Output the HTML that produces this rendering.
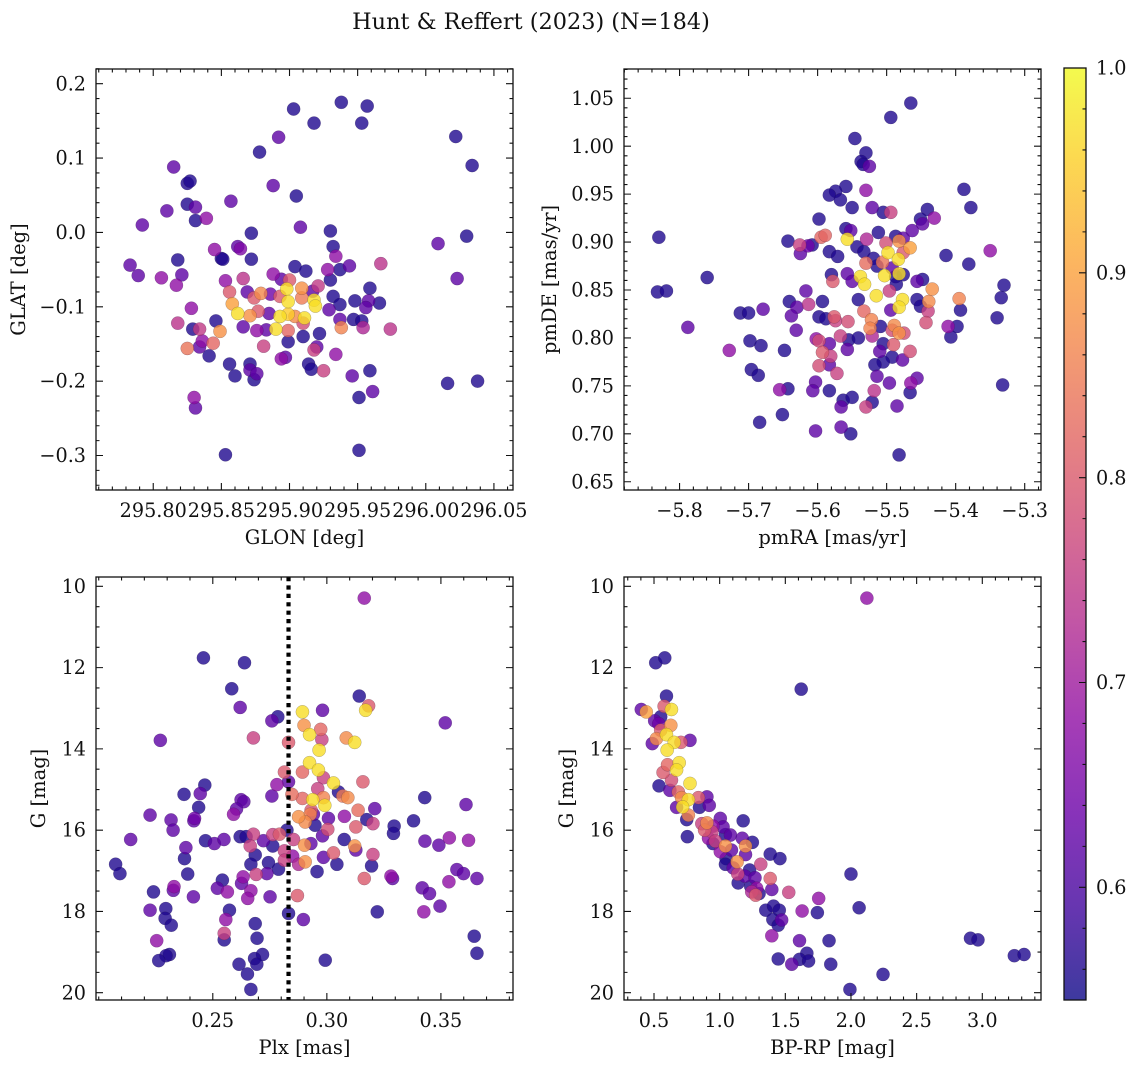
<!DOCTYPE html>
<html><head><meta charset="utf-8">
<style>
html,body{margin:0;padding:0;background:#fff;}
svg{display:block;font-family:"DejaVu Serif","Liberation Serif",serif;}
</style></head>
<body>
<svg id="fig" width="1136" height="1067" viewBox="0 0 1136 1067" xmlns="http://www.w3.org/2000/svg">
<rect width="1136" height="1067" fill="#fff"/>
<text x="531" y="29" font-size="22.4" text-anchor="middle" fill="#111">Hunt &amp; Reffert (2023) (N=184)</text>
<defs>
<linearGradient id="plasmaGrad" x1="0" y1="1" x2="0" y2="0">
<stop offset="0" stop-color="rgb(13,8,135)"/><stop offset="0.1" stop-color="rgb(65,4,157)"/>
<stop offset="0.2" stop-color="rgb(106,0,168)"/><stop offset="0.3" stop-color="rgb(143,13,164)"/>
<stop offset="0.4" stop-color="rgb(177,42,144)"/><stop offset="0.5" stop-color="rgb(204,71,120)"/>
<stop offset="0.6" stop-color="rgb(225,100,98)"/><stop offset="0.7" stop-color="rgb(242,132,75)"/>
<stop offset="0.8" stop-color="rgb(252,166,54)"/><stop offset="0.9" stop-color="rgb(252,206,37)"/>
<stop offset="1" stop-color="rgb(240,249,33)"/>
</linearGradient>
</defs>
</svg>
<script>
// ---------- Panel 1 data: GLON / GLAT ----------
const glon = [295.903,295.938,295.957,295.918,295.953,295.892,295.878,296.022,296.034,295.815,295.825,295.827,295.888,295.905,295.857,295.810,295.825,295.831,295.831,295.839,295.792,295.908,295.872,295.930,296.009,296.030,295.932,295.862,295.864,295.845,295.850,295.851,295.872,295.818,295.783,295.789,295.821,295.806,295.817,295.934,295.944,295.937,295.928,295.904,295.912,295.967,296.023,295.888,295.866,295.853,295.894,295.900,295.930,295.921,295.959,295.856,295.879,295.898,295.909,295.917,295.869,295.886,295.893,295.858,295.874,295.899,295.918,295.909,295.932,295.948,295.958,295.966,295.956,295.919,295.937,295.929,295.862,295.871,295.877,295.885,295.893,295.899,295.904,295.911,295.828,295.846,295.866,295.876,295.883,295.890,295.899,295.910,295.937,295.947,295.953,295.938,295.954,295.974,295.818,295.829,295.834,295.849,295.836,295.844,295.825,295.834,295.841,295.881,295.899,295.910,295.922,295.920,295.918,295.897,295.894,295.934,295.856,295.871,295.914,295.916,295.860,295.871,295.876,295.874,295.925,295.946,295.959,295.961,295.951,296.016,296.038,295.830,295.831,295.853,295.951];
const glat = [0.166,0.175,0.170,0.147,0.147,0.128,0.108,0.129,0.090,0.088,0.066,0.069,0.063,0.049,0.042,0.029,0.038,0.034,0.016,0.019,0.010,0.007,-0.001,0.002,-0.015,-0.005,-0.019,-0.019,-0.022,-0.023,-0.035,-0.036,-0.036,-0.037,-0.044,-0.058,-0.057,-0.061,-0.071,-0.032,-0.045,-0.050,-0.050,-0.046,-0.052,-0.042,-0.062,-0.056,-0.062,-0.065,-0.063,-0.064,-0.064,-0.072,-0.075,-0.080,-0.082,-0.076,-0.075,-0.079,-0.080,-0.083,-0.086,-0.096,-0.088,-0.093,-0.091,-0.088,-0.086,-0.092,-0.092,-0.095,-0.101,-0.099,-0.097,-0.104,-0.109,-0.112,-0.106,-0.109,-0.113,-0.110,-0.113,-0.115,-0.102,-0.119,-0.127,-0.132,-0.131,-0.130,-0.132,-0.122,-0.117,-0.117,-0.119,-0.128,-0.128,-0.130,-0.122,-0.130,-0.130,-0.133,-0.146,-0.149,-0.156,-0.154,-0.166,-0.153,-0.147,-0.140,-0.136,-0.154,-0.158,-0.168,-0.170,-0.164,-0.177,-0.177,-0.177,-0.184,-0.193,-0.185,-0.190,-0.198,-0.186,-0.193,-0.186,-0.214,-0.222,-0.203,-0.200,-0.222,-0.236,-0.299,-0.293];
const prob1 = [0.56,0.56,0.56,0.56,0.56,0.62,0.56,0.56,0.56,0.62,0.56,0.56,0.62,0.56,0.62,0.62,0.56,0.62,0.56,0.68,0.62,0.62,0.56,0.56,0.62,0.56,0.56,0.62,0.66,0.68,0.56,0.56,0.56,0.56,0.62,0.62,0.62,0.68,0.68,0.68,0.62,0.56,0.68,0.56,0.56,0.74,0.62,0.68,0.74,0.68,0.62,0.80,0.56,0.75,0.56,0.80,0.87,0.97,0.88,0.62,0.62,0.64,0.80,0.90,0.80,0.97,0.97,0.85,0.56,0.56,0.62,0.56,0.62,0.97,0.56,0.62,0.97,0.88,0.80,0.62,0.97,0.95,0.87,0.97,0.68,0.56,0.62,0.68,0.62,0.97,0.82,0.78,0.62,0.56,0.56,0.86,0.72,0.74,0.74,0.56,0.75,0.88,0.68,0.82,0.84,0.62,0.56,0.76,0.56,0.56,0.56,0.62,0.76,0.62,0.68,0.68,0.56,0.56,0.56,0.56,0.56,0.62,0.62,0.56,0.76,0.62,0.56,0.62,0.56,0.56,0.56,0.68,0.62,0.56,0.56];
const xt1 = [295.80,295.85,295.90,295.95,296.00,296.05];
const xt1Labels = ["295.80","295.85","295.90","295.95","296.00","296.05"];
const yt1 = [0.2,0.1,0.0,-0.1,-0.2,-0.3];
const yt1Labels = ["0.2","0.1","0.0","\u22120.1","\u22120.2","\u22120.3"];

// ---------- Panel 2 data: pmRA / pmDE ----------
const pmra = [-5.465,-5.494,-5.546,-5.530,-5.537,-5.534,-5.525,-5.559,-5.574,-5.583,-5.567,-5.530,-5.388,-5.378,-5.550,-5.521,-5.505,-5.494,-5.441,-5.451,-5.448,-5.431,-5.598,-5.559,-5.552,-5.512,-5.487,-5.476,-5.463,-5.830,-5.643,-5.595,-5.589,-5.557,-5.529,-5.501,-5.482,-5.466,-5.626,-5.625,-5.614,-5.608,-5.543,-5.533,-5.583,-5.571,-5.498,-5.476,-5.483,-5.414,-5.381,-5.350,-5.519,-5.530,-5.506,-5.514,-5.492,-5.482,-5.476,-5.760,-5.580,-5.557,-5.538,-5.503,-5.487,-5.578,-5.550,-5.532,-5.486,-5.456,-5.448,-5.330,-5.832,-5.819,-5.617,-5.496,-5.434,-5.515,-5.541,-5.456,-5.477,-5.439,-5.395,-5.334,-5.641,-5.613,-5.630,-5.593,-5.482,-5.451,-5.533,-5.494,-5.440,-5.393,-5.712,-5.700,-5.679,-5.638,-5.598,-5.576,-5.588,-5.574,-5.556,-5.522,-5.524,-5.509,-5.489,-5.492,-5.482,-5.475,-5.443,-5.411,-5.398,-5.407,-5.340,-5.788,-5.631,-5.602,-5.598,-5.583,-5.567,-5.555,-5.541,-5.521,-5.505,-5.490,-5.698,-5.682,-5.728,-5.648,-5.593,-5.581,-5.557,-5.510,-5.466,-5.492,-5.477,-5.505,-5.517,-5.696,-5.686,-5.598,-5.583,-5.572,-5.514,-5.603,-5.496,-5.456,-5.465,-5.332,-5.655,-5.643,-5.607,-5.583,-5.518,-5.466,-5.563,-5.566,-5.550,-5.521,-5.530,-5.485,-5.651,-5.684,-5.603,-5.566,-5.552,-5.482];
const pmde = [1.045,1.030,1.008,0.993,0.984,0.981,0.979,0.958,0.953,0.949,0.944,0.954,0.955,0.936,0.936,0.936,0.931,0.931,0.934,0.924,0.919,0.925,0.924,0.914,0.912,0.910,0.906,0.904,0.912,0.905,0.901,0.905,0.907,0.903,0.903,0.899,0.901,0.894,0.897,0.888,0.896,0.897,0.895,0.890,0.890,0.885,0.889,0.889,0.882,0.886,0.877,0.891,0.883,0.878,0.879,0.875,0.873,0.867,0.866,0.863,0.866,0.867,0.864,0.865,0.864,0.859,0.859,0.856,0.856,0.859,0.861,0.855,0.848,0.849,0.849,0.849,0.851,0.844,0.840,0.840,0.840,0.838,0.841,0.842,0.838,0.835,0.832,0.838,0.832,0.833,0.828,0.829,0.828,0.829,0.826,0.826,0.830,0.823,0.822,0.822,0.820,0.818,0.817,0.819,0.810,0.812,0.813,0.808,0.805,0.805,0.816,0.812,0.812,0.801,0.821,0.811,0.808,0.799,0.797,0.794,0.802,0.798,0.800,0.802,0.794,0.793,0.797,0.792,0.787,0.787,0.785,0.781,0.788,0.786,0.786,0.780,0.777,0.775,0.772,0.767,0.761,0.771,0.772,0.763,0.760,0.754,0.753,0.758,0.753,0.751,0.746,0.747,0.745,0.745,0.745,0.743,0.735,0.728,0.738,0.733,0.728,0.729,0.720,0.712,0.703,0.707,0.700,0.678];
const prob2 = [0.56,0.56,0.56,0.56,0.56,0.56,0.62,0.56,0.56,0.56,0.56,0.68,0.56,0.56,0.56,0.62,0.56,0.76,0.56,0.56,0.62,0.68,0.56,0.56,0.62,0.56,0.56,0.62,0.62,0.56,0.56,0.82,0.82,0.97,0.72,0.78,0.88,0.90,0.76,0.62,0.64,0.56,0.56,0.56,0.56,0.56,0.97,0.80,0.97,0.56,0.56,0.68,0.56,0.83,0.84,0.56,0.62,0.97,0.56,0.56,0.56,0.62,0.97,0.97,0.56,0.80,0.62,0.97,0.56,0.62,0.56,0.56,0.56,0.56,0.62,0.76,0.88,0.97,0.56,0.56,0.97,0.87,0.86,0.56,0.56,0.74,0.62,0.56,0.97,0.56,0.82,0.62,0.76,0.56,0.56,0.56,0.62,0.62,0.56,0.80,0.56,0.76,0.78,0.86,0.86,0.56,0.87,0.78,0.88,0.78,0.78,0.68,0.56,0.56,0.56,0.62,0.62,0.68,0.78,0.62,0.76,0.56,0.56,0.72,0.56,0.80,0.56,0.56,0.68,0.56,0.80,0.76,0.62,0.62,0.78,0.56,0.62,0.56,0.56,0.56,0.56,0.78,0.62,0.76,0.62,0.62,0.62,0.62,0.68,0.56,0.68,0.56,0.62,0.56,0.74,0.56,0.56,0.62,0.56,0.56,0.76,0.62,0.56,0.56,0.62,0.62,0.56,0.56];
const xt2 = [-5.8,-5.7,-5.6,-5.5,-5.4,-5.3];
const xt2Labels = ["\u22125.8","\u22125.7","\u22125.6","\u22125.5","\u22125.4","\u22125.3"];
const yt2 = [1.05,1.00,0.95,0.90,0.85,0.80,0.75,0.70,0.65];
const yt2Labels = ["1.05","1.00","0.95","0.90","0.85","0.80","0.75","0.70","0.65"];

// ---------- Panel 3 data: Plx / G ----------
const plx = [0.3164,0.2459,0.2639,0.2583,0.3142,0.3183,0.3170,0.2620,0.2893,0.2981,0.2785,0.2759,0.3519,0.2270,0.2678,0.2900,0.2973,0.2924,0.2978,0.3085,0.3122,0.2832,0.2966,0.2924,0.2963,0.2893,0.2814,0.2985,0.3029,0.3158,0.2832,0.2781,0.2465,0.2374,0.2445,0.2759,0.2960,0.2847,0.2893,0.2938,0.2985,0.3051,0.3070,0.3092,0.2991,0.3429,0.3610,0.2624,0.2636,0.2438,0.2604,0.2591,0.2931,0.2927,0.3137,0.3210,0.2225,0.2317,0.2420,0.2417,0.2876,0.2905,0.2941,0.3007,0.3077,0.3175,0.3202,0.3380,0.3295,0.3292,0.2948,0.3127,0.3004,0.2326,0.2825,0.2763,0.2792,0.2678,0.2620,0.2646,0.2981,0.2140,0.2468,0.2507,0.2549,0.2722,0.2763,0.2854,0.3076,0.3430,0.3491,0.3537,0.3621,0.2382,0.2664,0.2686,0.2902,0.2930,0.3122,0.3127,0.2814,0.2850,0.3029,0.2985,0.3202,0.2376,0.2074,0.2093,0.2390,0.2667,0.2744,0.2814,0.2905,0.2876,0.3044,0.3196,0.2957,0.2788,0.2737,0.2690,0.3281,0.3288,0.3164,0.3570,0.3599,0.3658,0.2542,0.2633,0.2626,0.3535,0.2330,0.2240,0.2327,0.2520,0.2564,0.2667,0.2653,0.2415,0.2751,0.2871,0.3418,0.3450,0.3496,0.3425,0.3221,0.2225,0.2294,0.2573,0.2832,0.2557,0.2291,0.2318,0.2897,0.2686,0.2550,0.2550,0.2694,0.2254,0.3646,0.3658,0.2310,0.2295,0.2263,0.2718,0.2683,0.2693,0.2615,0.2993,0.2652,0.2667];
const gmag3 = [10.29,11.76,11.88,12.52,12.70,12.94,13.05,12.98,13.09,13.05,13.21,13.31,13.36,13.79,13.73,13.42,13.52,13.65,13.77,13.73,13.84,13.84,14.03,14.34,14.52,14.57,14.57,14.71,14.84,14.81,14.81,14.88,14.89,15.12,15.10,15.16,14.98,15.12,15.22,15.25,15.20,15.06,15.16,15.20,15.39,15.20,15.37,15.25,15.30,15.44,15.48,15.61,15.51,15.61,15.51,15.47,15.63,15.75,15.71,15.77,15.67,15.80,15.61,15.71,15.66,15.74,15.84,15.77,15.90,16.08,15.88,15.92,15.98,16.00,16.00,16.11,16.10,16.10,16.16,16.16,16.14,16.23,16.26,16.33,16.23,16.26,16.39,16.23,16.23,16.27,16.37,16.19,16.25,16.43,16.39,16.61,16.37,16.33,16.39,16.49,16.51,16.64,16.56,16.67,16.60,16.70,16.84,17.07,17.08,16.84,16.80,16.74,16.78,16.84,16.84,16.88,17.02,16.96,17.07,17.09,17.13,17.19,17.19,16.97,17.07,17.19,17.23,17.15,17.31,17.27,17.39,17.52,17.48,17.43,17.52,17.49,17.68,17.64,17.64,17.61,17.42,17.56,17.87,18.01,18.01,17.97,17.93,17.97,18.05,18.20,18.17,18.34,18.20,18.30,18.54,18.70,18.66,18.72,18.61,19.03,19.06,19.09,19.21,19.06,19.16,19.30,19.30,19.20,19.54,19.92];
const prob3 = [0.68,0.56,0.56,0.56,0.56,0.80,0.97,0.62,0.97,0.62,0.56,0.62,0.62,0.62,0.76,0.88,0.82,0.97,0.76,0.87,0.97,0.80,0.97,0.97,0.97,0.82,0.80,0.76,0.97,0.80,0.62,0.68,0.56,0.56,0.62,0.62,0.76,0.83,0.82,0.97,0.86,0.56,0.85,0.87,0.97,0.56,0.62,0.62,0.62,0.56,0.62,0.68,0.80,0.86,0.83,0.62,0.62,0.62,0.64,0.62,0.88,0.87,0.62,0.62,0.68,0.56,0.76,0.56,0.56,0.56,0.56,0.80,0.78,0.62,0.56,0.76,0.80,0.76,0.56,0.56,0.62,0.62,0.56,0.62,0.62,0.62,0.56,0.76,0.56,0.62,0.62,0.68,0.68,0.62,0.76,0.56,0.88,0.62,0.88,0.62,0.76,0.68,0.80,0.62,0.76,0.56,0.56,0.56,0.56,0.56,0.56,0.76,0.88,0.72,0.56,0.56,0.56,0.56,0.62,0.76,0.68,0.62,0.80,0.62,0.62,0.62,0.56,0.68,0.62,0.68,0.68,0.56,0.62,0.62,0.68,0.68,0.68,0.62,0.62,0.80,0.62,0.62,0.62,0.68,0.56,0.62,0.56,0.56,0.56,0.68,0.56,0.56,0.62,0.56,0.76,0.56,0.56,0.68,0.56,0.56,0.56,0.56,0.56,0.56,0.56,0.56,0.56,0.56,0.56,0.56];
const xt3 = [0.25,0.30,0.35];
const xt3Labels = ["0.25","0.30","0.35"];
const plxRef = [0.2832];
const yt34 = [10,12,14,16,18,20];
const yt34Labels = ["10","12","14","16","18","20"];

// ---------- Panel 4 data: BP-RP / G ----------
const bprp = [2.121,0.513,0.582,1.621,0.595,0.403,0.441,0.577,0.633,0.551,0.505,0.536,0.628,0.551,0.595,0.518,0.654,0.705,0.487,0.774,0.600,0.692,0.603,0.672,0.569,0.774,0.633,0.538,0.621,0.685,0.710,0.762,0.838,0.903,0.672,0.718,0.846,0.921,0.762,0.749,0.864,0.903,1.005,1.179,0.949,1.026,0.885,0.941,0.754,1.044,1.082,0.915,0.967,0.949,1.172,1.249,1.044,1.197,1.005,1.090,1.197,1.385,1.459,1.049,1.133,1.313,1.044,1.103,1.228,1.138,1.192,1.269,1.385,1.141,1.236,1.282,1.244,1.300,1.397,1.274,1.526,1.754,2.000,2.062,1.628,1.744,1.351,1.410,1.454,1.405,1.472,1.446,1.397,1.608,1.833,2.910,2.967,3.244,3.318,1.664,1.446,1.549,1.608,1.677,1.846,2.244,1.992];
const gmag4 = [10.29,11.88,11.76,12.53,12.70,13.03,13.09,12.95,13.03,13.21,13.31,13.38,13.42,13.54,13.65,13.75,13.84,13.84,13.87,13.79,14.03,14.34,14.39,14.52,14.58,14.85,14.77,14.91,15.02,15.06,15.20,15.25,15.20,15.18,15.44,15.43,15.44,15.39,15.63,15.74,15.84,15.82,15.71,15.77,15.90,15.92,16.00,16.04,16.16,16.11,16.12,16.20,16.27,16.33,16.20,16.30,16.39,16.39,16.53,16.49,16.60,16.59,16.70,16.70,16.78,16.84,16.84,16.93,16.98,17.08,17.13,17.17,17.19,17.30,17.38,17.43,17.52,17.56,17.46,17.60,17.53,17.68,17.08,17.91,17.99,18.03,17.97,17.87,17.97,18.20,18.21,18.34,18.60,18.72,18.72,18.66,18.70,19.09,19.06,19.03,19.17,19.30,19.18,19.22,19.30,19.55,19.92];
const prob4 = [0.68,0.56,0.56,0.56,0.56,0.62,0.90,0.80,0.97,0.56,0.62,0.64,0.88,0.80,0.97,0.87,0.97,0.80,0.62,0.62,0.97,0.97,0.82,0.97,0.80,0.97,0.78,0.56,0.62,0.82,0.87,0.97,0.80,0.62,0.62,0.97,0.56,0.62,0.86,0.56,0.76,0.87,0.62,0.56,0.68,0.62,0.80,0.76,0.56,0.56,0.62,0.68,0.76,0.56,0.62,0.56,0.88,0.88,0.68,0.62,0.62,0.56,0.56,0.56,0.88,0.76,0.56,0.62,0.56,0.76,0.62,0.62,0.80,0.56,0.56,0.68,0.72,0.56,0.62,0.80,0.76,0.68,0.56,0.56,0.68,0.56,0.56,0.56,0.56,0.56,0.62,0.56,0.68,0.62,0.56,0.56,0.56,0.56,0.56,0.56,0.56,0.62,0.56,0.56,0.56,0.56,0.56];
const xt4 = [0.5,1.0,1.5,2.0,2.5,3.0];
const xt4Labels = ["0.5","1.0","1.5","2.0","2.5","3.0"];

// ---------- Colorbar ----------
const cbMin = 0.545, cbMax = 1.0;
const cbTicks = [0.6,0.7,0.8,0.9,1.0];
const cbLabels = ["0.6","0.7","0.8","0.9","1.0"];

const NS = "http://www.w3.org/2000/svg";
const svg = document.getElementById('fig');
const plasma = [[13,8,135],[65,4,157],[106,0,168],[143,13,164],[177,42,144],[204,71,120],[225,100,98],[242,132,75],[252,166,54],[252,206,37],[240,249,33]];
function cmap(v){
  let t = (v-cbMin)/(cbMax-cbMin); t = Math.max(0,Math.min(1,t));
  const s = t*10, i = Math.min(9,Math.floor(s)), f = s-i;
  const a = plasma[i], b = plasma[i+1];
  return 'rgb('+[0,1,2].map(k=>Math.round(a[k]+(b[k]-a[k])*f)).join(',')+')';
}
function mk(tag, attrs, parent){
  const e = document.createElementNS(NS, tag);
  for (const k in attrs) e.setAttribute(k, attrs[k]);
  (parent||svg).appendChild(e);
  return e;
}
function fmtMinor(a,b,step){const r=[];for(let v=a;v<=b+1e-9;v+=step)r.push(v);return r;}
const TICK_FS = 19.2, TITLE_FS = 19.5;

function panel(p){
  const g = mk('g', {});
  
  
  const sx = v => p.x0 + (v - p.xlim[0])/(p.xlim[1]-p.xlim[0])*(p.x1-p.x0);
  const sy = v => p.y1 - (v - p.ylim[0])/(p.ylim[1]-p.ylim[0])*(p.y1-p.y0);
  const syy = p.invertY ? (v => p.y0 + (v - p.ylim[0])/(p.ylim[1]-p.ylim[0])*(p.y1-p.y0)) : sy;
  const idx = p.xs.map((_,i)=>i).sort((a,b)=>p.c[a]-p.c[b]);
  const pg = mk('g', {}, g);
  
  
  idx.forEach(i=>{
    const c = mk('circle', {cx:sx(p.xs[i]).toFixed(2), cy:syy(p.ys[i]).toFixed(2), r:6.6, fill:cmap(p.c[i]), 'fill-opacity':0.8, stroke:'rgba(40,30,60,0.35)', 'stroke-width':0.5}, pg);
    
    
  });
  if (p.vline){
    p.vline.forEach(v=>{
      const l = mk('line', {x1:sx(v), x2:sx(v), y1:p.y0, y2:p.y1, stroke:'#000', 'stroke-width':4.2, 'stroke-dasharray':'4.2 4.2'}, g);
      
      
    });
  }
  const fr = mk('rect', {x:p.x0, y:p.y0, width:p.x1-p.x0, height:p.y1-p.y0, fill:'none', stroke:'#111', 'stroke-width':1.3}, g);
  
  
  let d = '';
  p.xminor.forEach(v=>{const X=sx(v); if(X<p.x0-0.5||X>p.x1+0.5)return; d+=`M${X},${p.y1}v-3.5M${X},${p.y0}v3.5`;});
  p.xt.forEach(v=>{const X=sx(v); d+=`M${X},${p.y1}v-7M${X},${p.y0}v7`;});
  p.yminor.forEach(v=>{const Y=syy(v); if(Y<p.y0-0.5||Y>p.y1+0.5)return; d+=`M${p.x0},${Y}h3.5M${p.x1},${Y}h-3.5`;});
  p.yt.forEach(v=>{const Y=syy(v); d+=`M${p.x0},${Y}h7M${p.x1},${Y}h-7`;});
  const tk = mk('path', {d:d, stroke:'#111', 'stroke-width':1.1, fill:'none'}, g);
  
  
  p.xt.forEach((v,i)=>{
    const t = mk('text', {x:sx(v), y:p.y1+27, 'font-size':TICK_FS, 'text-anchor':'middle', fill:'#111'}, g);
    t.textContent = p.xtl[i];
    
    
  });
  p.yt.forEach((v,i)=>{
    const t = mk('text', {x:p.x0-10, y:syy(v)+6.6, 'font-size':TICK_FS, 'text-anchor':'end', fill:'#111'}, g);
    t.textContent = p.ytl[i];
    
    
  });
  const xl = mk('text', {x:(p.x0+p.x1)/2, y:p.y1+54, 'font-size':TITLE_FS, 'text-anchor':'middle', fill:'#111'}, g);
  xl.textContent = p.xlabel;
  
  
  const yl = mk('text', {x:0, y:0, 'font-size':TITLE_FS, 'text-anchor':'middle', fill:'#111', transform:`translate(${p.ylx},${(p.y0+p.y1)/2}) rotate(-90)`}, g);
  yl.textContent = p.ylabel;
  
  
}

panel({name:'glon-glat-panel', x0:96, x1:513, y0:69, y1:490, xlim:[295.758,296.064], ylim:[-0.3464,0.2198],
  xs:glon, ys:glat, c:prob1, xt:xt1, xtl:xt1Labels, yt:yt1, ytl:yt1Labels,
  xminor:fmtMinor(295.75,296.07,0.01), yminor:fmtMinor(-0.34,0.22,0.02), xlabel:'GLON [deg]', ylabel:'GLAT [deg]', ylx:25});
panel({name:'proper-motion-panel', x0:624, x1:1041, y0:69, y1:490, xlim:[-5.8805,-5.2764], ylim:[0.6414,1.0805],
  xs:pmra, ys:pmde, c:prob2, xt:xt2, xtl:xt2Labels, yt:yt2, ytl:yt2Labels,
  xminor:fmtMinor(-5.88,-5.28,0.02), yminor:fmtMinor(0.65,1.08,0.01), xlabel:'pmRA [mas/yr]', ylabel:'pmDE [mas/yr]', ylx:556});
panel({name:'parallax-mag-panel', x0:96, x1:513, y0:577, y1:1000, xlim:[0.1988,0.3816], ylim:[9.77,20.18], invertY:true,
  xs:plx, ys:gmag3, c:prob3, xt:xt3, xtl:xt3Labels, yt:yt34, ytl:yt34Labels, vline:plxRef,
  xminor:fmtMinor(0.20,0.38,0.01), yminor:fmtMinor(10,20,0.5), xlabel:'Plx [mas]', ylabel:'G [mag]', ylx:45});
panel({name:'color-mag-panel', x0:624, x1:1041, y0:577, y1:1000, xlim:[0.2715,3.447], ylim:[9.77,20.18], invertY:true,
  xs:bprp, ys:gmag4, c:prob4, xt:xt4, xtl:xt4Labels, yt:yt34, ytl:yt34Labels,
  xminor:fmtMinor(0.3,3.4,0.1), yminor:fmtMinor(10,20,0.5), xlabel:'BP-RP [mag]', ylabel:'G [mag]', ylx:573});

(function(){
  const x0=1064, x1=1086, y0=68, y1=1000;
  const g = mk('g', {});
  
  
  const r = mk('rect', {x:x0, y:y0, width:x1-x0, height:y1-y0, fill:'url(#plasmaGrad)', 'fill-opacity':0.8}, g);
  
  
  const fr = mk('rect', {x:x0, y:y0, width:x1-x0, height:y1-y0, fill:'none', stroke:'#111', 'stroke-width':1.3}, g);
  
  
  const cy = v => y1 - (v-cbMin)/(cbMax-cbMin)*(y1-y0);
  let d='';
  fmtMinor(0.56,1.0,0.02).forEach(v=>{d+=`M${x1},${cy(v)}h-3.5`;});
  cbTicks.forEach(v=>{d+=`M${x1},${cy(v)}h-7`;});
  const tk = mk('path', {d:d, stroke:'#111', 'stroke-width':1.1}, g);
  
  
  cbTicks.forEach((v,i)=>{
    const t = mk('text', {x:x1+10, y:cy(v)+6.6, 'font-size':TICK_FS, fill:'#111'}, g);
    t.textContent = cbLabels[i];
    
    
  });
})();
</script>
</body></html>
